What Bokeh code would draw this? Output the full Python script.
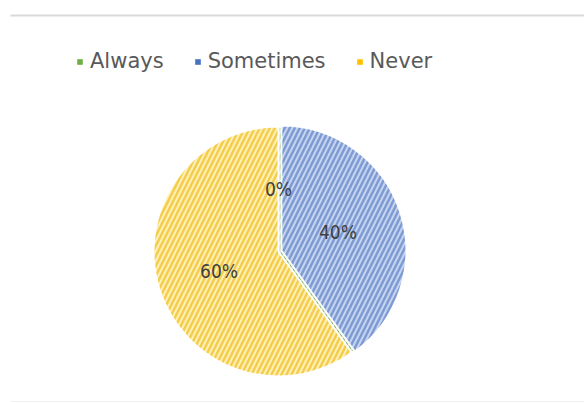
import math
from bokeh.plotting import figure
from bokeh.models import ColumnDataSource, Range1d, Legend, LegendItem
from bokeh.core.properties import value
from bokeh.embed import file_html
from bokeh.resources import INLINE

# ---- data ----
categories = ["Always", "Sometimes", "Never"]
percents = [0, 40, 60]

# ---- styles ----
fill_colors = ["#c5e0b4", "#c6d4ef", "#fff0b8"]
hatch_colors = ["#70ad47", "#7f9bd4", "#f5cd4c"]
legend_colors = ["#70ad47", "#4472c4", "#ffc000"]
explode = [0, 3, 0]

W, H = 584, 403
cx, cy_top, r = 278, 251, 125
cy = H - cy_top

p = figure(width=W, height=H, output_backend="svg", toolbar_location=None,
           x_range=Range1d(0, W), y_range=Range1d(0, H), min_border=0)
p.axis.visible = False
p.grid.visible = False
p.outline_line_color = None
p.background_fill_color = "white"

total = sum(percents)
xs, ys, starts, ends, lx, ly, labels = [], [], [], [], [], [], []
cum = 0
for v, e in zip(percents, explode):
    a0 = math.pi / 2 - 2 * math.pi * cum / total
    a1 = math.pi / 2 - 2 * math.pi * (cum + v) / total
    mid = (a0 + a1) / 2
    xs.append(cx + e * math.cos(mid))
    ys.append(cy + e * math.sin(mid))
    starts.append(a0)
    ends.append(a1)
    lx.append(cx + 0.5 * r * math.cos(mid))
    ly.append(cy + 0.5 * r * math.sin(mid))
    labels.append(f"{v}%")
    cum += v

src = ColumnDataSource(dict(x=xs, y=ys, start=starts, end=ends,
                            fill=fill_colors, hatch=hatch_colors,
                            lx=lx, ly=ly, label=labels, cat=categories))

p.wedge(x="x", y="y", radius=r, start_angle="start", end_angle="end",
        direction="clock", fill_color="fill", line_color="white", line_width=2,
        hatch_pattern="/", hatch_color="hatch", hatch_scale=10, hatch_weight=2.5,
        source=src)

p.text(x="lx", y="ly", text="label", source=src, text_align="center",
       text_baseline="middle", text_font=value("DejaVu Sans Condensed"),
       text_font_size="19px", text_color="#404040")

# frame lines
p.segment(x0=[10, 10], y0=[H - 15, 2], x1=[W, W], y1=[H - 15, 2],
          line_color=["#d9d9d9", "#f0f0f0"], line_width=[2, 1])

# legend
items = []
for c, col in zip(categories, legend_colors):
    rr = p.rect(x=[-100], y=[-100], width=1, height=1, fill_color=col, line_color=None)
    items.append(LegendItem(label=c, renderers=[rr]))
legend = Legend(items=items, orientation="horizontal", location=(76, 330),
                glyph_width=7, glyph_height=7, label_standoff=7, spacing=30,
                label_text_font="DejaVu Sans", label_text_font_size="21px",
                label_text_color="#595959", border_line_alpha=0,
                background_fill_alpha=0, padding=0, margin=0)
p.add_layout(legend, "center")

open("out.html", "w").write(file_html(p, INLINE))
